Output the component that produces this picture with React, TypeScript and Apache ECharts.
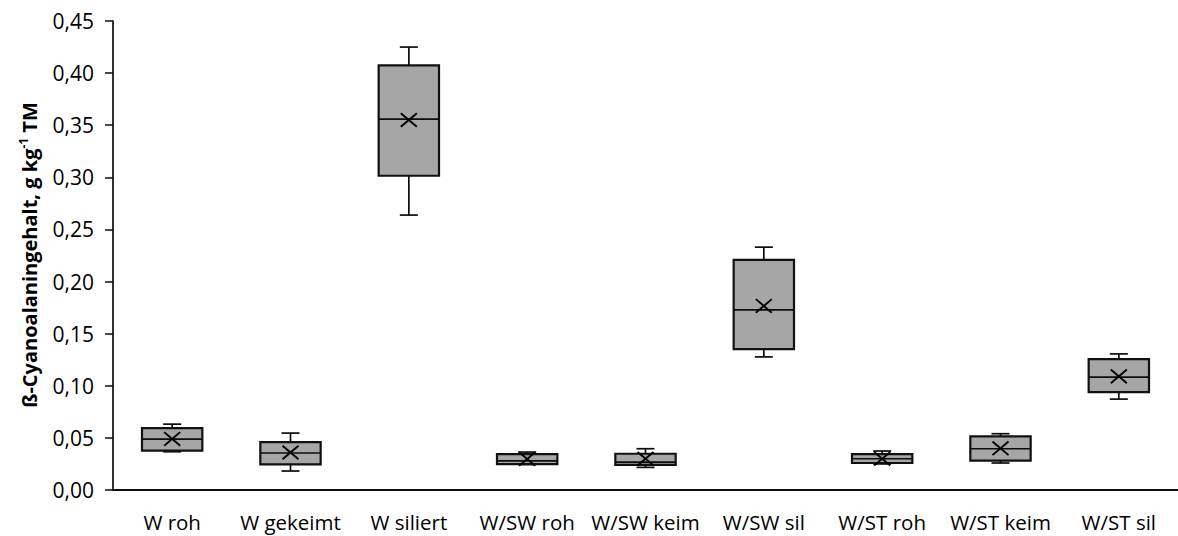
import React, { useEffect, useRef } from "react";
import * as echarts from "echarts";

const categories = ["W roh", "W gekeimt", "W siliert", "W/SW roh", "W/SW keim", "W/SW sil", "W/ST roh", "W/ST keim", "W/ST sil"];
const whiskerLow = [0.0367, 0.0182, 0.2638, 0.0245, 0.0217, 0.1277, 0.025, 0.0259, 0.0872];
const q1 = [0.0377, 0.0245, 0.3015, 0.0249, 0.0242, 0.1351, 0.0259, 0.0281, 0.0939];
const median = [0.0489, 0.0355, 0.3558, 0.028, 0.0268, 0.1728, 0.030, 0.0396, 0.1083];
const q3 = [0.0594, 0.046, 0.4075, 0.0345, 0.0348, 0.2208, 0.0345, 0.0514, 0.1255];
const whiskerHigh = [0.0632, 0.0546, 0.425, 0.0364, 0.0396, 0.233, 0.0374, 0.054, 0.1306];
const means = [0.049, 0.036, 0.355, 0.0297, 0.030, 0.1766, 0.030, 0.040, 0.109];
const yTicks = { min: 0, max: 0.45, interval: 0.05 };

export default function App() {
  const ref = useRef<HTMLDivElement>(null);
  useEffect(() => {
    if (!ref.current) return;
    const chart = echarts.init(ref.current, undefined, { renderer: "svg" });
    const data = categories.map((_, i) => [i, whiskerLow[i], q1[i], median[i], q3[i], whiskerHigh[i], means[i]]);
    const line = { stroke: "#0d0d0d", lineWidth: 1.7 };
    chart.setOption({
      animation: false,
      backgroundColor: "#fff",
      grid: { left: 113, right: -6, top: 21, bottom: 46, containLabel: false },
      xAxis: {
        type: "category",
        data: categories,
        boundaryGap: true,
        axisLine: { show: true, lineStyle: { color: "#0d0d0d", width: 2 } },
        axisTick: { show: false },
        axisLabel: { color: "#000", fontFamily: "Open Sans", fontSize: 20.5, margin: 21, interval: 0 },
        splitLine: { show: false },
      },
      yAxis: {
        type: "value",
        min: yTicks.min,
        max: yTicks.max,
        interval: yTicks.interval,
        axisLine: { show: true, lineStyle: { color: "#0d0d0d", width: 1.7 } },
        axisTick: { show: true, inside: false, length: 8, lineStyle: { color: "#0d0d0d", width: 1.5 } },
        axisLabel: {
          color: "#000",
          fontFamily: "Open Sans",
          fontSize: 21,
          margin: 19,
          formatter: (v: number) => v.toFixed(2).replace(".", ","),
        },
        splitLine: { show: false },
      },
      graphic: [
        {
          type: "text",
          x: 29,
          y: 255,
          rotation: Math.PI / 2,
          style: {
            text: "{a|ß-Cyanoalaningehalt, g kg}{s|-1}{a| TM}",
            align: "center",
            verticalAlign: "middle",
            rich: {
              a: { fontFamily: "Open Sans", fontWeight: "bold", fontSize: 20, fill: "#000", lineHeight: 24 },
              s: { fontFamily: "Open Sans", fontWeight: "bold", fontSize: 12, fill: "#000", lineHeight: 24, verticalAlign: "top" },
            },
          },
        },
      ],
      series: [
        {
          type: "custom",
          data,
          encode: { x: 0, y: [1, 2, 3, 4, 5, 6] },
          renderItem: (params: any, api: any) => {
            const x = api.value(0);
            const pLow = api.coord([x, api.value(1)]);
            const pQ1 = api.coord([x, api.value(2)]);
            const pMed = api.coord([x, api.value(3)]);
            const pQ3 = api.coord([x, api.value(4)]);
            const pHigh = api.coord([x, api.value(5)]);
            const pMean = api.coord([x, api.value(6)]);
            const band = api.size([1, 0])[0];
            const bw = band * 0.51;
            const cx = pMed[0];
            const cap = 9;
            const m = 8;
            return {
              type: "group",
              children: [
                { type: "line", shape: { x1: cx, y1: pQ1[1], x2: cx, y2: pLow[1] }, style: line },
                { type: "line", shape: { x1: cx, y1: pQ3[1], x2: cx, y2: pHigh[1] }, style: line },
                { type: "line", shape: { x1: cx - cap, y1: pLow[1], x2: cx + cap, y2: pLow[1] }, style: line },
                { type: "line", shape: { x1: cx - cap, y1: pHigh[1], x2: cx + cap, y2: pHigh[1] }, style: line },
                {
                  type: "rect",
                  shape: { x: cx - bw / 2, y: pQ3[1], width: bw, height: pQ1[1] - pQ3[1] },
                  style: { fill: "#a6a6a6", stroke: "#111", lineWidth: 2.2 },
                },
                { type: "line", shape: { x1: cx - bw / 2, y1: pMed[1], x2: cx + bw / 2, y2: pMed[1] }, style: line },
                { type: "line", shape: { x1: cx - m, y1: pMean[1] - m * 0.85, x2: cx + m, y2: pMean[1] + m * 0.85 }, style: { stroke: "#000", lineWidth: 1.9 } },
                { type: "line", shape: { x1: cx - m, y1: pMean[1] + m * 0.85, x2: cx + m, y2: pMean[1] - m * 0.85 }, style: { stroke: "#000", lineWidth: 1.9 } },
              ],
            };
          },
        },
      ],
    });
    return () => chart.dispose();
  }, []);
  return <div ref={ref} style={{ position: "fixed", left: 0, top: 0, width: 1178, height: 536 }} />;
}
